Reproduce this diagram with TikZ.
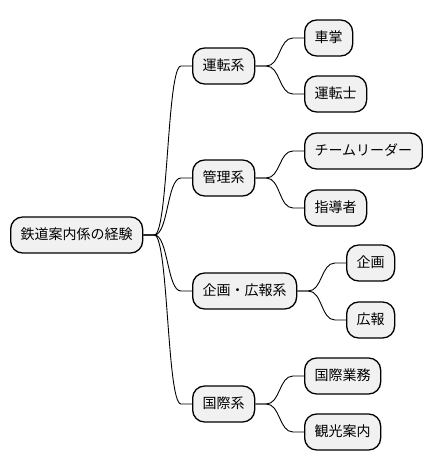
\documentclass[tikz,border=0pt]{standalone}
\usepackage{fontspec}
\setmainfont{Noto Sans CJK JP}
\usetikzlibrary{calc}
\definecolor{nodefill}{HTML}{F1F1F1}
\tikzset{
  mmnode/.style={draw=black, line width=1.3pt, fill=nodefill, rounded corners=12pt,
    minimum height=36pt, inner xsep=10pt, inner ysep=0pt, anchor=west,
    font=\fontsize{14}{16}\selectfont, text height=11pt, text depth=2.5pt},
  mmline/.style={draw=black, line width=0.9pt}
}
\newcommand\mmlink[2]{\draw[mmline] (#1.east) -- ++(11,0) .. controls +(14,0) and +(-14,0) .. ($(#2.west)+(-11,0)$) -- (#2.west);}
\begin{document}
\begin{tikzpicture}[x=1pt,y=-1pt]
\useasboundingbox (0,0) rectangle (432,471);
\node[mmnode] (root) at (10,235) {鉄道案内係の経験};
\node[mmnode] (unten) at (192,66) {運転系};
\node[mmnode] (kanri) at (192,178) {管理系};
\node[mmnode] (kikaku) at (192,291) {企画・広報系};
\node[mmnode] (kokusai) at (192,404) {国際系};
\node[mmnode] (shasho) at (304,38) {車掌};
\node[mmnode] (untenshi) at (304,94) {運転士};
\node[mmnode] (team) at (304,151) {チームリーダー};
\node[mmnode] (shido) at (304,208) {指導者};
\node[mmnode] (kikaku2) at (346,263) {企画};
\node[mmnode] (koho) at (346,320) {広報};
\node[mmnode] (kokusaigyomu) at (304,376) {国際業務};
\node[mmnode] (kanko) at (304,432) {観光案内};
\mmlink{root}{unten}
\mmlink{root}{kanri}
\mmlink{root}{kikaku}
\mmlink{root}{kokusai}
\mmlink{unten}{shasho}
\mmlink{unten}{untenshi}
\mmlink{kanri}{team}
\mmlink{kanri}{shido}
\mmlink{kikaku}{kikaku2}
\mmlink{kikaku}{koho}
\mmlink{kokusai}{kokusaigyomu}
\mmlink{kokusai}{kanko}
\end{tikzpicture}
\end{document}
